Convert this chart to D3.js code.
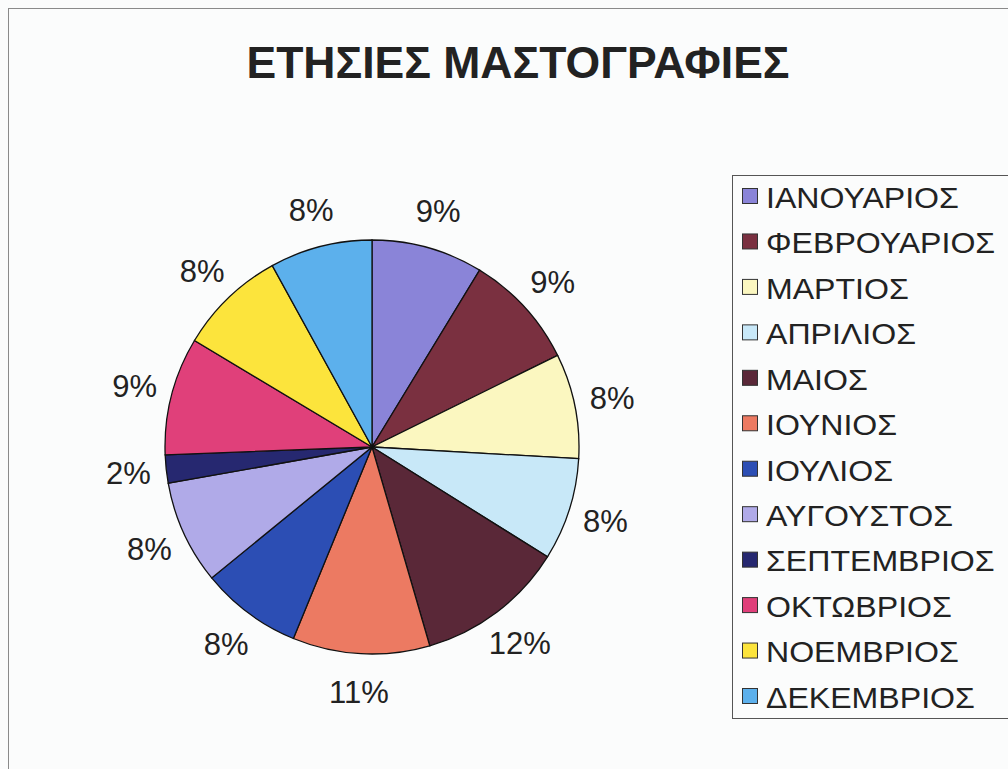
<!DOCTYPE html>
<html>
<head>
<meta charset="utf-8">
<script src="https://cdn.jsdelivr.net/npm/d3@7"></script>
<style>
  body { margin: 0; background: #fbfcfc; }
  svg { display: block; font-family: Arial, "Liberation Sans", sans-serif; }
</style>
</head>
<body>
<div id="graph"></div>
<script>
// months and their share of the year's mammographies (percent)
var months = ["ΙΑΝΟΥΑΡΙΟΣ", "ΦΕΒΡΟΥΑΡΙΟΣ", "ΜΑΡΤΙΟΣ", "ΑΠΡΙΛΙΟΣ", "ΜΑΙΟΣ", "ΙΟΥΝΙΟΣ",
              "ΙΟΥΛΙΟΣ", "ΑΥΓΟΥΣΤΟΣ", "ΣΕΠΤΕΜΒΡΙΟΣ", "ΟΚΤΩΒΡΙΟΣ", "ΝΟΕΜΒΡΙΟΣ", "ΔΕΚΕΜΒΡΙΟΣ"];
var shares = [8.7, 9.0, 8.2, 8.0, 11.6, 10.7, 7.9, 8.1, 2.2, 9.2, 8.4, 8.0];
var colors = ["#8a84d8", "#7a3040", "#fbf7c0", "#c8e8f8", "#5a2838", "#ec7a62",
              "#2c4eb4", "#b0aae8", "#262870", "#e0407a", "#fce43c", "#5cb0ec"];
var title = "ΕΤΗΣΙΕΣ ΜΑΣΤΟΓΡΑΦΙΕΣ";

var width = 1008, height = 769;
var cx = 372, cy = 447, r = 207;

var svg = d3.select("#graph").append("svg")
    .attr("width", width)
    .attr("height", height);

// outer chart frame
svg.append("rect")
    .attr("x", 8.5).attr("y", 8.5)
    .attr("width", width).attr("height", height)
    .attr("fill", "#fbfcfc")
    .attr("stroke", "#8a8a8a");

svg.append("text")
    .attr("x", 518).attr("y", 78)
    .attr("text-anchor", "middle")
    .style("font-size", "44.5px")
    .style("font-weight", "bold")
    .attr("fill", "#222")
    .text(title);

var data = months.map((m, i) => ({ month: m, value: shares[i], color: colors[i] }));

var pie = d3.pie().sort(null).value(d => d.value);
var arc = d3.arc().innerRadius(0).outerRadius(r);
var labelArc = d3.arc().innerRadius(r + 38).outerRadius(r + 38);

var g = svg.append("g").attr("transform", `translate(${cx},${cy})`);

g.selectAll("path")
    .data(pie(data))
    .enter()
    .append("path")
    .attr("d", arc)
    .attr("fill", d => d.data.color)
    .attr("stroke", "#111")
    .attr("stroke-width", 1.3);

g.selectAll(".pct")
    .data(pie(data))
    .enter()
    .append("text")
    .attr("class", "pct")
    .attr("transform", d => `translate(${labelArc.centroid(d)})`)
    .attr("text-anchor", "middle")
    .attr("dy", "0.36em")
    .style("font-size", "31px")
    .attr("fill", "#222")
    .text(d => Math.round(d.data.value) + "%");

// legend
var legend = svg.append("g");
legend.append("rect")
    .attr("x", 732.5).attr("y", 175.5)
    .attr("width", 300).attr("height", 543)
    .attr("fill", "#fbfcfc")
    .attr("stroke", "#555");

var rowY = d3.scaleLinear().domain([0, months.length - 1]).range([197, 697]);

var item = legend.selectAll(".item")
    .data(data)
    .enter()
    .append("g")
    .attr("class", "item")
    .attr("transform", (d, i) => `translate(0,${rowY(i)})`);

item.append("rect")
    .attr("x", 742.5).attr("y", -8.5)
    .attr("width", 15).attr("height", 15)
    .attr("fill", d => d.color)
    .attr("stroke", "#333");

item.append("text")
    .attr("transform", "translate(766,0) scale(1.07,1)")
    .attr("dy", "0.36em")
    .style("font-size", "30px")
    .attr("fill", "#222")
    .text(d => d.month);
</script>
</body>
</html>
